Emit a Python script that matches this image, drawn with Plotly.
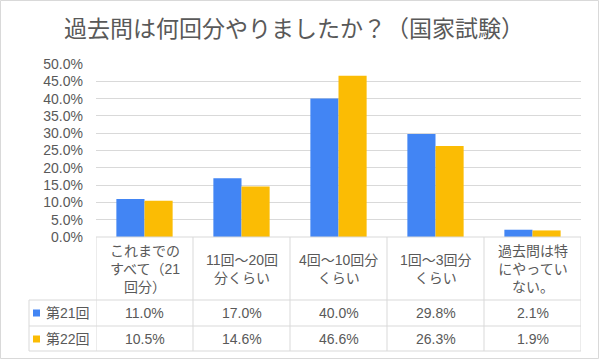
import plotly.graph_objects as go

categories = ["これまでの<br>すべて（21<br>回分）", "11回～20回<br>分くらい", "4回～10回分<br>くらい",
              "1回～3回分<br>くらい", "過去問は特<br>にやってい<br>ない。"]
series_names = ["第21回", "第22回"]
s21 = [11.0, 17.0, 40.0, 29.8, 2.1]
s22 = [10.5, 14.6, 46.6, 26.3, 1.9]
colors = ["#4285F4", "#FBBC04"]
title = "過去問は何回分やりましたか？（国家試験）"

W, H = 600, 360
L, R, T, B = 96, 19, 64, 123
pw, ph = W - L - R, H - T - B
FONT = "Liberation Sans, Arial, Noto Sans CJK JP, sans-serif"
TXT = "#595959"
GRID = "#d9d9d9"

def px(x):
    return (x - L) / pw

def py(y):
    return (H - B - y) / ph

fig = go.Figure()
xs = list(range(len(categories)))
for name, vals, c in zip(series_names, [s21, s22], colors):
    fig.add_trace(go.Bar(x=xs, y=vals, name=name, marker_color=c, marker_line_width=0))

shapes = []
annotations = []
line = dict(color=GRID, width=1)
# horizontal table lines
shapes.append(dict(type="line", xref="paper", yref="paper", x0=0, x1=1, y0=py(237), y1=py(237), line=line))
for yy in [300, 326, 351]:
    shapes.append(dict(type="line", xref="paper", yref="paper", x0=px(29), x1=1, y0=py(yy), y1=py(yy), line=line))
# vertical lines
shapes.append(dict(type="line", xref="paper", yref="paper", x0=px(29), x1=px(29), y0=py(300), y1=py(351), line=line))
for i in range(len(categories) + 1):
    xx = i - 0.5
    shapes.append(dict(type="line", xref="x", yref="paper", x0=xx, x1=xx, y0=py(237), y1=py(351), line=line))
# outer border
shapes.append(dict(type="rect", xref="paper", yref="paper", x0=px(0.5), x1=px(598.5), y0=py(0.5), y1=py(358.5),
                   line=dict(color=GRID, width=1), fillcolor="rgba(0,0,0,0)", layer="below"))

# category labels
for i, cat in enumerate(categories):
    annotations.append(dict(x=i, xref="x", y=py(269), yref="paper", text=cat, showarrow=False,
                            font=dict(family=FONT, size=14, color=TXT), align="center", yanchor="middle"))
# series rows
row_y = [313, 339]
for r, (name, vals, c) in enumerate(zip(series_names, [s21, s22], colors)):
    yc = row_y[r]
    shapes.append(dict(type="rect", xref="paper", yref="paper", x0=px(33), x1=px(40), y0=py(yc - 3.5), y1=py(yc + 3.5),
                       fillcolor=c, line=dict(width=0)))
    annotations.append(dict(x=px(44), xref="paper", y=py(yc), yref="paper", text=name, showarrow=False,
                            xanchor="left", yanchor="middle", font=dict(family=FONT, size=14, color=TXT)))
    for i, v in enumerate(vals):
        annotations.append(dict(x=i, xref="x", y=py(yc), yref="paper", text=f"{v:.1f}%", showarrow=False,
                                yanchor="middle", font=dict(family=FONT, size=14, color=TXT)))

annotations.append(dict(x=px(294), xref="paper", y=py(29), yref="paper", text=title, showarrow=False,
                        xanchor="center", yanchor="middle", font=dict(family=FONT, size=23, color=TXT)))

fig.update_layout(
    width=W, height=H, margin=dict(l=L, r=R, t=T, b=B),
    paper_bgcolor="white", plot_bgcolor="white",
    barmode="group", bargap=0.42, bargroupgap=0,
    showlegend=False, shapes=shapes, annotations=annotations,
    font=dict(family=FONT, color=TXT),
)
fig.update_xaxes(range=[-0.5, len(categories) - 0.5], showticklabels=False, showgrid=False,
                 zeroline=False, showline=False, ticks="")
fig.update_yaxes(range=[0, 50], dtick=5, tickformat=".1f", ticksuffix="%", showgrid=True, gridcolor=GRID,
                 gridwidth=1, zeroline=False, showline=False, ticks="", ticklabelstandoff=12,
                 tickfont=dict(family=FONT, size=14, color=TXT))

fig.write_html("out.html", config={"displayModeBar": False},
               post_script="document.body.style.margin='0';document.body.style.overflow='hidden';")
